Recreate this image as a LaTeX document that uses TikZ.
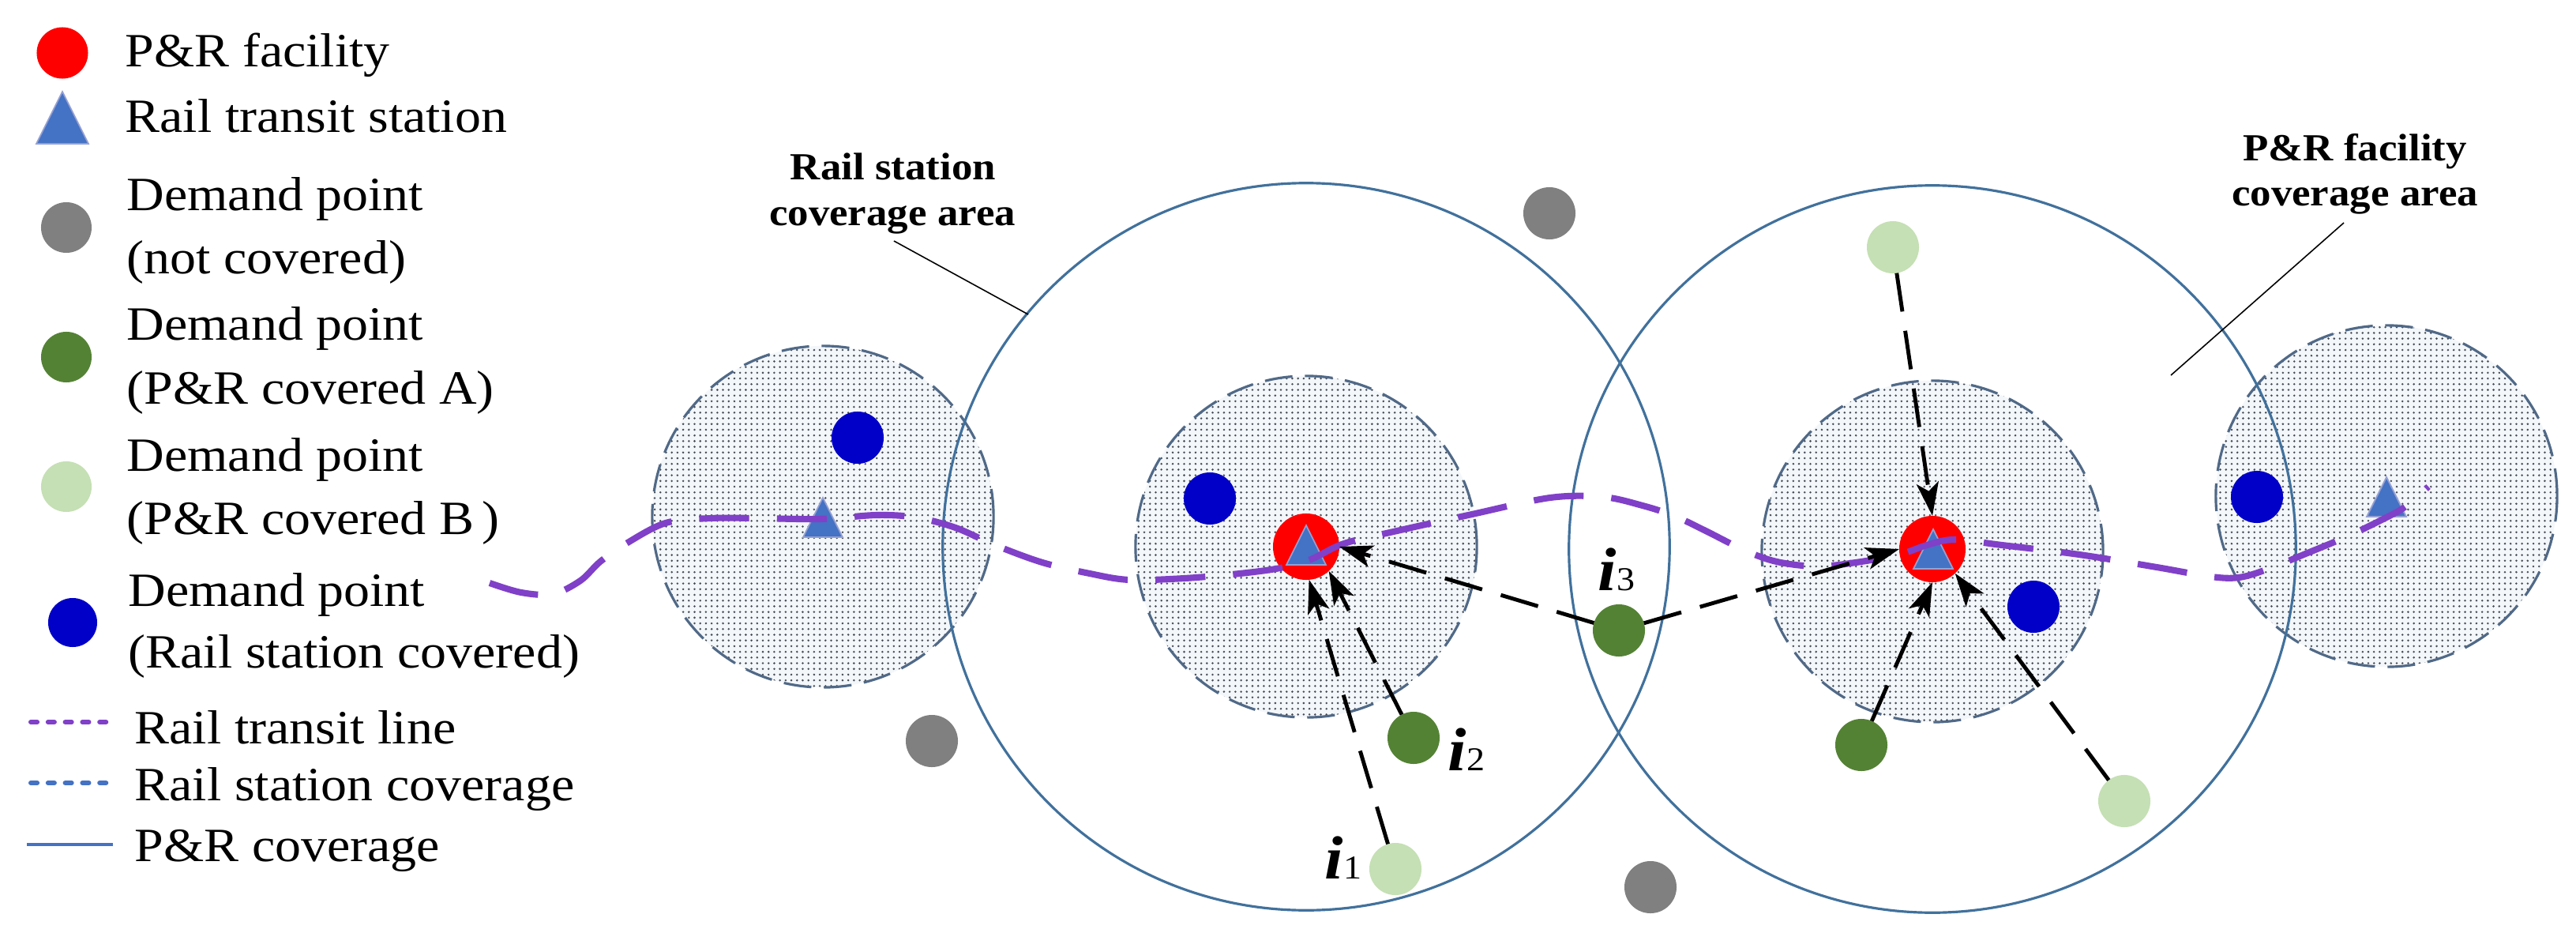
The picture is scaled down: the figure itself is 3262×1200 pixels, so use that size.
\documentclass[tikz,border=0pt]{standalone}
\usepackage{fontspec}
\setmainfont{Liberation Serif}[FakeStretch=1.09]
\usetikzlibrary{arrows.meta,patterns.meta}

\definecolor{prred}{RGB}{255,0,0}
\definecolor{stblue}{RGB}{68,114,196}
\definecolor{stedge}{RGB}{150,160,210}
\definecolor{dgray}{RGB}{128,128,128}
\definecolor{dgreen}{RGB}{84,130,53}
\definecolor{lgreen}{RGB}{197,224,180}
\definecolor{dblue}{RGB}{0,0,200}
\definecolor{bigc}{RGB}{65,113,156}
\definecolor{dashc}{RGB}{80,105,135}
\definecolor{railc}{RGB}{128,64,200}
\definecolor{areabg}{RGB}{244,247,250}
\definecolor{dotc}{RGB}{70,76,86}

\tikzdeclarepattern{
  name=fdots, type=uncolored,
  bottom left={(-.5pt,-.5pt)}, top right={(.5pt,.5pt)},
  tile size={(2.05pt,2.05pt)},
  code={\fill (0pt,0pt) circle[radius=0.4pt];}
}

\tikzset{
  legtxt/.style={anchor=base west, inner sep=0pt, font=\fontsize{17.2}{20}\selectfont},
  arealbl/.style={anchor=base, inner sep=0pt, font=\bfseries\fontsize{13.8}{16}\selectfont},
  ilbl/.style={anchor=base west, inner sep=0pt},
  area/.style={draw=dashc, line width=0.9pt, dash pattern=on 10pt off 4.5pt, preaction={fill=areabg}, pattern=fdots, pattern color=dotc},
  bigcirc/.style={draw=bigc, line width=0.9pt},
  rail/.style={draw=railc, line width=2.3pt, dash pattern=on 18pt off 10pt},
  arr/.style={draw=black, line width=1.4pt, dash pattern=on 14pt off 7pt, -{Stealth[length=12pt, width=8pt, inset=3pt]}},
  leader/.style={draw=black, line width=0.45pt},
  prc/.style={circle, fill=prred, inner sep=0pt, outer sep=0pt, minimum size=0.84cm},
  dpt/.style={circle, inner sep=0pt, outer sep=0pt, minimum size=0.66cm},
  tri/.style={fill=stblue, draw=stedge, line width=0.5pt},
  pics/sttri/.style={code={\path[tri] (-#1,#1) -- (#1,#1) -- (0,-#1) -- cycle;}},
  legrail/.style={draw=railc, line width=1.7pt, line cap=round, dash pattern=on 2.3pt off 3.9pt},
  legarea/.style={draw=stblue, line width=1.7pt, line cap=round, dash pattern=on 2.3pt off 3.9pt},
  legbig/.style={draw=stblue, line width=1.4pt}
}

\begin{document}
\begin{tikzpicture}[x=0.01cm, y=-0.01cm]
\useasboundingbox (0,0) rectangle (3262,1200);
\fill[white] (0,0) rectangle (3262,1200);

% ---------- legend ----------
\node[prc, minimum size=0.65cm] (lg1) at (79,67) {};
\node[legtxt] (lt1) at (158,84) {P\&R facility};
\pic at (79,149) {sttri=33};
\coordinate (lg2) at (79,149);
\node[legtxt] (lt2) at (158,167) {Rail transit station};
\node[dpt, fill=dgray, minimum size=0.64cm] (lg3) at (84,288) {};
\node[legtxt] (lt3a) at (160,266) {Demand point};
\node[legtxt] (lt3b) at (160,346) {(not covered)};
\node[dpt, fill=dgreen, minimum size=0.64cm] (lg4) at (84,452) {};
\node[legtxt] (lt4a) at (160,430) {Demand point};
\node[legtxt] (lt4b) at (160,511) {(P\&R covered A)};
\node[dpt, fill=lgreen, minimum size=0.64cm] (lg5) at (84,616) {};
\node[legtxt] (lt5a) at (160,596) {Demand point};
\node[legtxt] (lt5b) at (160,676) {(P\&R covered B\,)};
\node[dpt, fill=dblue, minimum size=0.62cm] (lg6) at (92,788) {};
\node[legtxt] (lt6a) at (162,767) {Demand point};
\node[legtxt] (lt6b) at (162,845) {(Rail station covered)};
\coordinate (lr1a) at (39,914); \coordinate (lr1b) at (145,914);
\draw[legrail] (lr1a) -- (lr1b);
\node[legtxt] (lt7) at (170,941) {Rail transit line};
\coordinate (lr2a) at (39,991); \coordinate (lr2b) at (145,991);
\draw[legarea] (lr2a) -- (lr2b);
\node[legtxt] (lt8) at (170,1013) {Rail station coverage};
\coordinate (lr3a) at (34,1069); \coordinate (lr3b) at (143,1069);
\draw[legbig] (lr3a) -- (lr3b);
\node[legtxt] (lt9) at (170,1090) {P\&R coverage};

% ---------- coverage areas ----------
\path[area] (1042,654) circle[radius=2.16cm];
\path[area] (1654,692) circle[radius=2.16cm];
\path[area] (2447,698) circle[radius=2.16cm];
\path[area] (3022,628) circle[radius=2.16cm];

\path[bigcirc] (1654,692) circle[radius=4.6cm];
\path[bigcirc] (2447,695) circle[radius=4.6cm];

% ---------- area labels ----------
\node[arealbl] (la1) at (1131,227) {Rail station};
\node[arealbl] (la2) at (1130,285) {coverage area};
\coordinate (l1a) at (1132,305); \coordinate (l1b) at (1302,398);
\draw[leader] (l1a) -- (l1b);
\node[arealbl] (lb1) at (2982,203) {P\&R facility};
\node[arealbl] (lb2) at (2982,260) {coverage area};
\coordinate (l2a) at (2968,282); \coordinate (l2b) at (2749,475);
\draw[leader] (l2a) -- (l2b);

% ---------- demand points ----------
\node[dpt, fill=dgray] (g1) at (1180,938) {};
\node[dpt, fill=dgray] (g2) at (1962,270) {};
\node[dpt, fill=dgray] (g3) at (2090,1123) {};

\node[dpt, fill=dblue] (b1) at (1086,554) {};
\node[dpt, fill=dblue] (b2) at (1532,631) {};
\node[dpt, fill=dblue] (b3) at (2575,768) {};
\node[dpt, fill=dblue] (b4) at (2858,629) {};

\node[dpt, fill=lgreen] (i1) at (1767,1100) {};
\node[dpt, fill=dgreen] (i2) at (1790,934) {};
\node[dpt, fill=dgreen] (i3) at (2050,798) {};
\node[dpt, fill=lgreen] (p1) at (2397,313) {};
\node[dpt, fill=dgreen] (p2) at (2357,943) {};
\node[dpt, fill=lgreen] (p3) at (2690,1014) {};

% ---------- P&R facilities and stations ----------
\node[prc] (r1) at (1654,692) {};
\node[prc] (r2) at (2447,695) {};
\pic at (1042,655) {sttri=25};
\pic at (1654,690) {sttri=25};
\pic at (2448,695) {sttri=25};
\pic at (3022,629) {sttri=25};

% ---------- rail line ----------
\draw[rail] plot[smooth, tension=0.55] coordinates {
 (620,738) (660,750) (700,752) (735,735) (760,711) (793,688) (843,662)
 (900,656) (960,656) (1040,657) (1110,652) (1160,655) (1210,668)
 (1260,690) (1320,712) (1380,726) (1430,734) (1500,732) (1570,726)
 (1621,719) (1660,708) (1702,688) (1769,672) (1864,651) (1963,630)
 (2030,629) (2080,640) (2120,653) (2160,672) (2210,697) (2250,711)
 (2300,717) (2350,712) (2405,702) (2440,690) (2475,683) (2535,690)
 (2633,702) (2731,718) (2800,730) (2835,731) (2870,721) (2922,700)
 (2970,680) (3012,660) (3045,642) (3075,616)};

% ---------- access arrows ----------
\draw[arr] (i1) -- (r1.-85);
\draw[arr] (i2) -- (r1.-47);
\draw[arr] (i3) -- (r1.east);
\draw[arr] (i3) -- (r2.west);
\draw[arr] (p1) -- (r2.north);
\draw[arr] (p2) -- (r2.south);
\draw[arr] (p3) -- (r2.-47);

% ---------- demand labels ----------
\node[ilbl] (n1) at (1677,1112) {{\fontsize{22}{22}\selectfont\textbf{\textit{i}}}{\fontsize{12}{12}\selectfont 1}};
\node[ilbl] (n2) at (1833,975) {{\fontsize{22}{22}\selectfont\textbf{\textit{i}}}{\fontsize{12}{12}\selectfont 2}};
\node[ilbl] (n3) at (2023,747) {{\fontsize{22}{22}\selectfont\textbf{\textit{i}}}{\fontsize{12}{12}\selectfont 3}};
\end{tikzpicture}
\end{document}
